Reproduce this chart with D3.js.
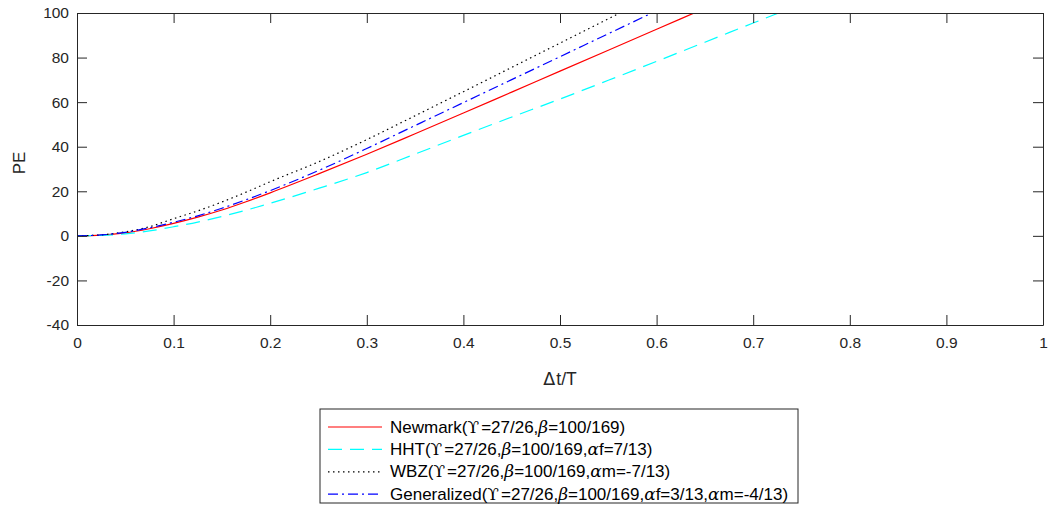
<!DOCTYPE html>
<html>
<head>
<meta charset="utf-8">
<script src="https://cdn.jsdelivr.net/npm/d3@7"></script>
<style>
  body { margin: 0; background: #fff; }
  text { font-family: Arial, "Liberation Sans", sans-serif; }
</style>
</head>
<body>
<div id="chart"></div>
<script>
// sample points along dt/T
const tValues = [0, 0.025, 0.05, 0.075, 0.1, 0.125, 0.15, 0.175, 0.2, 0.25, 0.3, 0.35, 0.4, 0.45, 0.5, 0.55, 0.6, 0.65, 0.7, 0.75];

// PE values (null = off the top of the chart)
const newmark = [0, 0.3, 1.3, 3.2, 5.6, 8.4, 11.6, 15.3, 19.3, 27.8, 36.6, 45.8, 55.1, 64.5, 73.9, 83.3, 92.7, 102.1, null, null];
const hht = [0, 0.2, 0.9, 2.2, 4.1, 6.2, 8.7, 11.5, 14.6, 21.3, 28.4, 36.7, 45.1, 53.3, 61.4, 69.8, 78.3, 86.9, 95.5, 104.1];
const wbz = [0, 0.45, 1.8, 4.1, 7.7, 11.2, 15.2, 19.6, 24.3, 33.2, 43.2, 53.9, 64.7, 75.6, 86.5, 97.4, 108.3, null, null, null];
const generalized = [0, 0.4, 1.6, 3.6, 6.1, 9.0, 12.4, 16.2, 20.3, 29.3, 39.2, 49.5, 59.8, 70.1, 80.4, 90.7, 101.0, null, null, null];

const xTicks = [0, 0.1, 0.2, 0.3, 0.4, 0.5, 0.6, 0.7, 0.8, 0.9, 1];
const yTicks = [-40, -20, 0, 20, 40, 60, 80, 100];

const seriesNames = [
  ['Newmark(', 'ϒ', '=27/26,', 'β', '=100/169)'],
  ['HHT(', 'ϒ', '=27/26,', 'β', '=100/169,', 'α', 'f=7/13)'],
  ['WBZ(', 'ϒ', '=27/26,', 'β', '=100/169,', 'α', 'm=-7/13)'],
  ['Generalized(', 'ϒ', '=27/26,', 'β', '=100/169,', 'α', 'f=3/13,', 'α', 'm=-4/13)']
];
const seriesData = [newmark, hht, wbz, generalized];
const seriesColors = ['#ff0000', '#00ffff', '#000000', '#0000ff'];
const seriesDash = [null, '14,8', '1.5,3.5', '10,4,2,4'];

const W = 1048, H = 508;
const margin = { top: 13, right: 5, bottom: 183, left: 77 },
  width = W - margin.left - margin.right,
  height = H - margin.top - margin.bottom;

const svg = d3.select('#chart')
  .append('svg')
  .attr('width', W)
  .attr('height', H);

const g = svg.append('g')
  .attr('transform', `translate(${margin.left},${margin.top})`);

const x = d3.scaleLinear().domain([0, 1]).range([0, width]);
const y = d3.scaleLinear().domain([-40, 100]).range([height, 0]);

g.append('clipPath').attr('id', 'clip')
  .append('rect').attr('width', width).attr('height', height);

const line = d3.line()
  .defined((d) => d[1] !== null)
  .x((d) => x(d[0]))
  .y((d) => y(d[1]))
  .curve(d3.curveMonotoneX);

// curves
seriesData.forEach((vals, i) => {
  const pts = tValues.map((t, j) => [t, vals[j]]);
  g.append('path')
    .attr('clip-path', 'url(#clip)')
    .attr('fill', 'none')
    .attr('stroke', seriesColors[i])
    .attr('stroke-width', 1.2)
    .attr('stroke-dasharray', seriesDash[i])
    .attr('d', line(pts));
});

// axes (ticks point inward, box all round)
const axisColor = '#262626';
const styleAxis = (sel) => {
  sel.selectAll('path').attr('stroke', axisColor);
  sel.selectAll('line').attr('stroke', axisColor);
  sel.selectAll('text')
    .attr('fill', axisColor)
    .style('font-size', '15.5px')
    .style('font-family', 'Arial, "Liberation Sans", sans-serif');
};
const fmt = (d) => String(d);

g.append('g')
  .attr('transform', `translate(0,${height})`)
  .call(d3.axisBottom(x).tickValues(xTicks).tickSizeInner(-10).tickSizeOuter(0).tickPadding(12)
    .tickFormat(fmt))
  .call(styleAxis);
g.append('g')
  .call(d3.axisTop(x).tickValues(xTicks).tickSizeInner(-10).tickSizeOuter(0).tickFormat(''))
  .call(styleAxis);
g.append('g')
  .call(d3.axisLeft(y).tickValues(yTicks).tickSizeInner(-10).tickSizeOuter(0).tickPadding(8)
    .tickFormat(fmt))
  .call(styleAxis);
g.append('g')
  .attr('transform', `translate(${width},0)`)
  .call(d3.axisRight(y).tickValues(yTicks).tickSizeInner(-10).tickSizeOuter(0).tickFormat(''))
  .call(styleAxis);

// axis labels
const xl = g.append('text')
  .attr('x', width / 2)
  .attr('y', height + 60)
  .attr('text-anchor', 'middle')
  .attr('fill', axisColor)
  .style('font-size', '17.5px');
xl.append('tspan').style('font-family', '"DejaVu Sans", sans-serif').text('Δ');
xl.append('tspan').attr('dx', 1).text('t/T');

g.append('text')
  .attr('transform', `translate(-52,${height / 2 - 6}) rotate(-90)`)
  .attr('text-anchor', 'middle')
  .attr('fill', axisColor)
  .style('font-size', '17px')
  .text('PE');

// legend
const legend = svg.append('g').attr('transform', 'translate(320,409)');
legend.append('rect')
  .attr('width', 478)
  .attr('height', 94)
  .attr('fill', '#fff')
  .attr('stroke', axisColor)
  .attr('stroke-width', 1);

seriesNames.forEach((parts, i) => {
  const cy = 18 + i * 22.4;
  legend.append('line')
    .attr('x1', 8).attr('x2', 62)
    .attr('y1', cy).attr('y2', cy)
    .attr('stroke', seriesColors[i])
    .attr('stroke-width', 1.2)
    .attr('stroke-dasharray', seriesDash[i]);
  const t = legend.append('text')
    .attr('x', 70)
    .attr('y', cy + 5.5)
    .attr('fill', '#000')
    .style('font-size', '17px');
  let afterSym = false;
  parts.forEach((p) => {
    const span = t.append('tspan').text(p);
    if (afterSym) span.attr('dx', 2);
    afterSym = false;
    if (p === 'β' || p === 'α') {
      span.style('font-style', 'italic').style('font-family', '"DejaVu Serif", serif');
    }
    if (p === 'ϒ') {
      span.style('font-family', '"DejaVu Serif", serif');
      afterSym = true;
    }
  });
});
</script>
</body>
</html>
